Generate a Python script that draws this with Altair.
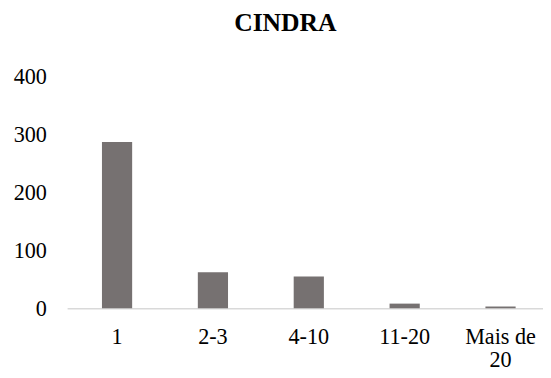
import altair as alt
import pandas as pd

categories = ["1", "2-3", "4-10", "11-20", "Mais de 20"]
values = [287, 62, 55, 8, 3]
y_ticks = [0, 100, 200, 300, 400]

df = pd.DataFrame({"cat": categories, "val": values})

FONT = "Liberation Serif"

chart = (
    alt.Chart(df)
    .mark_bar(color="#767171")
    .encode(
        x=alt.X(
            "cat:N",
            sort=categories,
            scale=alt.Scale(paddingInner=0.685, paddingOuter=0.3245, align=0.56),
            axis=alt.Axis(
                title=None,
                labelAngle=0,
                ticks=False,
                tickSize=0,
                domainColor="#d9d9d9",
                domainWidth=1.5,
                labelFont=FONT,
                labelFontSize=22.5,
                labelColor="#000000",
                labelBaseline="alphabetic",
                labelPadding=36,
                labelLineHeight=23,
                labelExpr="datum.label == 'Mais de 20' ? ['Mais de', '20'] : datum.label",
            ),
        ),
        y=alt.Y(
            "val:Q",
            scale=alt.Scale(domain=[0, 400], nice=False),
            axis=alt.Axis(
                title=None,
                values=y_ticks,
                grid=False,
                domain=False,
                ticks=False,
                tickSize=0,
                labelFont=FONT,
                labelFontSize=22.5,
                labelColor="#000000",
                labelPadding=21,
            ),
        ),
    )
    .properties(
        width=483,
        height=235,
        title=alt.TitleParams(
            "CINDRA",
            font=FONT,
            fontSize=26,
            fontWeight="bold",
            color="#000000",
            anchor="middle",
            dx=-20,
            offset=30,
        ),
        autosize=alt.AutoSizeParams(type="none"),
        padding={"left": 60, "top": 67, "right": 0, "bottom": 64},
    )
    .configure_view(stroke=None)
)

chart.save("out.html", embed_options={"renderer": "svg", "actions": False})
